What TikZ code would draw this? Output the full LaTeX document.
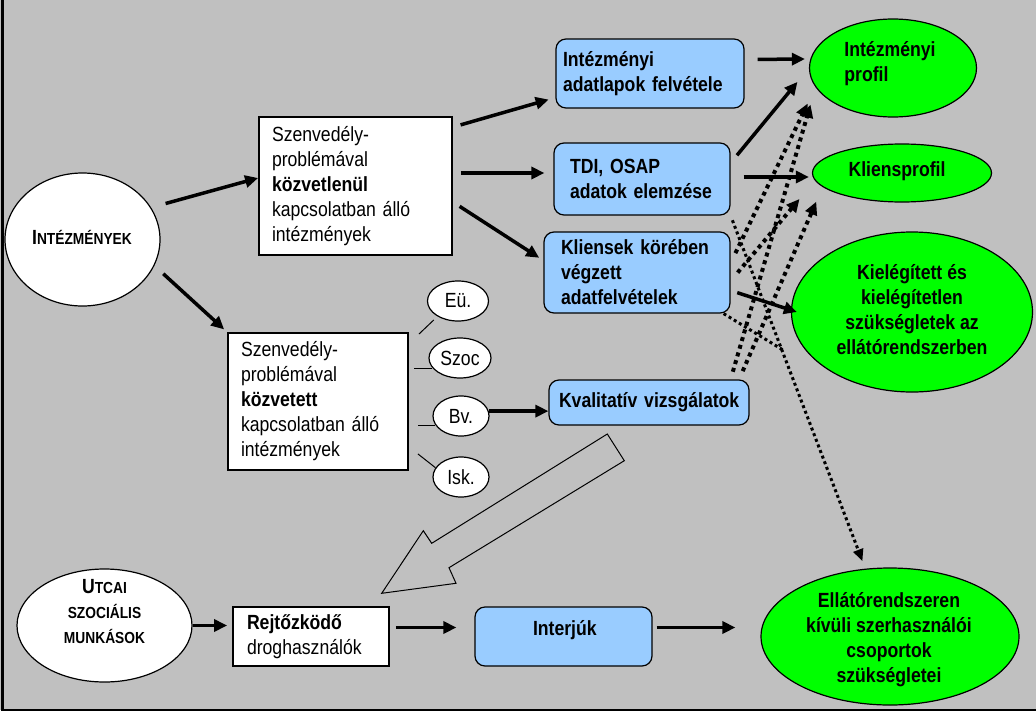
\documentclass[tikz,border=0pt]{standalone}
\usepackage{fontspec}
\setmainfont{Liberation Sans}[FakeStretch=0.86]
\usetikzlibrary{shapes.geometric,arrows.meta}
\definecolor{hatter}{RGB}{192,192,192}
\definecolor{kek}{RGB}{153,204,255}
\definecolor{zold}{RGB}{0,255,0}
\newcommand{\alap}{\fontsize{20.5}{25}\selectfont\hyphenpenalty=10000\exhyphenpenalty=10000}
\newcommand{\kisbetu}{\fontsize{16}{25}\selectfont}
\tikzset{
  doboz/.style={draw, line width=1.8pt, fill=white, inner sep=0pt, align=left, font=\alap},
  kekdoboz/.style={draw, line width=1.2pt, fill=kek, rounded corners=10pt, inner sep=0pt, align=left, font=\alap\bfseries},
  fehell/.style={ellipse, draw, line width=1.2pt, fill=white, inner sep=0pt},
  zoldell/.style={ellipse, draw, line width=1.2pt, fill=zold, inner sep=0pt},
  kisell/.style={ellipse, draw, line width=1.2pt, fill=white, inner sep=0pt, font=\alap},
  felirat/.style={font=\alap\bfseries, inner sep=0pt},
  nyil/.style={line width=3.5pt, -{Triangle[length=13pt,width=12pt]}},
  pontnyil/.style={line width=4pt, dash pattern=on 4pt off 4pt, -{Triangle[length=13pt,width=12pt]}},
  vekonypont/.style={line width=3pt, dash pattern=on 3pt off 3pt},
  vekonynyil/.style={vekonypont, -{Triangle[length=12pt,width=10pt]}},
  vonal/.style={line width=1pt}
}
\begin{document}
\begin{tikzpicture}[x=1pt, y=-1pt]
  \useasboundingbox (0,0) rectangle (1036,715);
  % hatter
  \fill[white] (0,0) rectangle (1036,715);
  \fill[hatter] (0,0) rectangle (1036,710);
  \draw[line width=2.5pt] (2.5,0) -- (2.5,710) -- (1036,710);

  % intezmenyek
  \node[fehell, minimum width=155pt, minimum height=133pt] (inst) at (82.5,239.5) {};
  \node[felirat] (inst-t) at (82,237) {I{\kisbetu NTÉZMÉNYEK}};
  \node[doboz, minimum width=193pt, minimum height=138pt, text width=167pt] (direct) at (355.5,186)
    {Szenvedély-\\problémával\\\textbf{közvetlenül}\\kapcsolatban~álló\\intézmények};
  \node[doboz, minimum width=180pt, minimum height=137pt, text width=154pt] (indirect) at (318,401.5)
    {Szenvedély-\\problémával\\\textbf{közvetett}\\kapcsolatban~álló\\intézmények};
  \foreach \nodename/\x/\y/\w/\txt in {eu/458/301/61/Eü., szoc/460/358/62/Szoc, bv/461/416/56/Bv., isk/461/477/56/Isk.}
    \node[kisell, minimum width=\w pt, minimum height=40pt] (\nodename) at (\x,\y) {\txt};

  % adatgyujtes
  \node[kekdoboz, minimum width=188pt, minimum height=69pt, text width=174pt] (adatlap) at (650,73.5) {Intézményi\\adatlapok~felvétele};
  \node[kekdoboz, minimum width=176pt, minimum height=72pt, text width=144pt] (tdi) at (642,179) {TDI, OSAP\\adatok~elemzése};
  \node[kekdoboz, minimum width=186pt, minimum height=81pt, text width=152pt] (kliens) at (637,272.5) {Kliensek~körében\\végzett\\adatfelvételek};
  \node[kekdoboz, minimum width=200pt, minimum height=45pt, text width=180pt] (kval) at (649,402.5) {Kvalitatív~vizsgálatok};

  % utcai munka
  \node[fehell, minimum width=175pt, minimum height=113pt] (utcai) at (104.5,625.5) {};
  \node[felirat, align=center] (utcai-t) at (104.5,612) {U{\kisbetu TCAI}\\{\kisbetu SZOCIÁLIS}\\{\kisbetu MUNKÁSOK}};
  \node[doboz, minimum width=156pt, minimum height=59pt, text width=128pt] (rejt) at (311,636.5) {\textbf{Rejtőzködő}\\droghasználók};
  \node[kekdoboz, minimum width=177pt, minimum height=59pt, text width=61pt] (interju) at (563.5,636.5) {Interjúk\\[-8pt]\mbox{}};

  % eredmenyek
  \node[zoldell, minimum width=167pt, minimum height=98pt] (iprof) at (893,68) {};
  \node[felirat, align=left] (iprof-t) at (890,64) {Intézményi\\profil};
  \node[zoldell, minimum width=179pt, minimum height=58pt] (kprof) at (902,173) {};
  \node[felirat] (kprof-t) at (897,171) {Kliensprofil};
  \node[zoldell, minimum width=241pt, minimum height=160pt] (igeny) at (912,312) {};
  \node[felirat, align=center] (igeny-t) at (912,310) {Kielégített és\\kielégítetlen\\szükségletek az\\ellátórendszerben};
  \node[zoldell, minimum width=258pt, minimum height=137pt] (kivul) at (890,636.5) {};
  \node[felirat, align=center] (kivul-t) at (889,640) {Ellátórendszeren\\kívüli szerhasználói\\csoportok\\szükségletei};

  % nyilak
  \draw[nyil, shorten <=15pt] (inst.25) -- ([yshift=8pt]direct.west);
  \draw[nyil, shorten <=12pt, shorten >=4pt] (inst.-20) -- (indirect.north west);
  \draw[nyil, shorten <=8pt, shorten >=7pt] ([yshift=-11pt]direct.north east) -- ([yshift=11pt]adatlap.south west);
  \draw[nyil, shorten <=8pt, shorten >=9pt] ([yshift=13pt]direct.east) -- ([yshift=6pt]tdi.west);
  \draw[nyil, shorten <=8pt, shorten >=5pt] ([yshift=-16pt]direct.east) -- ([yshift=12pt]kliens.west);
  \draw[nyil, shorten <=13pt, shorten >=4pt] ([yshift=14pt]adatlap.east) -- ([yshift=9pt]iprof.west);
  \draw[nyil, shorten <=10pt, shorten >=18pt] ([yshift=16pt]tdi.east) -- (iprof.west);
  \draw[nyil, shorten <=13pt, shorten >=3pt] ([yshift=2pt]tdi.east) -- ([yshift=-4pt]kprof.west);
  \draw[nyil, shorten <=7pt] ([yshift=-18pt]kliens.east) -- ([xshift=6pt]igeny.west);
  \draw[nyil] (bv.10) -- (bv.10 -| kval.west);
  \draw[nyil, shorten >=5pt] (utcai.east) -- (utcai.east -| rejt.west);
  \draw[nyil, shorten <=6pt, shorten >=18pt] ([yshift=9pt]rejt.east) -- ([yshift=9pt]interju.west);
  \draw[nyil, shorten <=4pt, shorten >=25pt] ([yshift=9pt]interju.east) -- ([yshift=9pt]kivul.west);

  % pontozott nyilak
  \draw[pontnyil, shorten <=11pt, shorten >=18pt] ([yshift=9.5pt]kliens.east) -- (iprof.194);
  \draw[pontnyil, shorten <=11pt, shorten >=24pt] ([yshift=-8.5pt]kliens.east) -- (kprof.185);
  \draw[pontnyil, shorten <=8pt, shorten >=18pt] ([xshift=-19pt]kval.north east) -- (iprof.194);
  \draw[pontnyil, shorten <=9pt, shorten >=16pt] ([xshift=-10.5pt]kval.north east) -- (kprof.190);
  \draw[vekonynyil, shorten <=5pt, shorten >=8pt] (tdi.south east) -- (kivul.110);
  \coordinate (metszes) at (783,350);
  \draw[vekonypont] ([xshift=-7pt]kliens.south east) -- (metszes);

  % kis ellipszisek vonalai
  \draw[vonal, shorten <=5pt] (eu.217) -- ([xshift=10pt,yshift=-2pt]indirect.north east);
  \draw[vonal, shorten >=5pt] (szoc.200) -- (indirect.east |- szoc.200);
  \draw[vonal, shorten >=9pt] (bv.200) -- (indirect.east |- bv.200);
  \draw[vonal] (isk.160) -- ([xshift=9pt,yshift=17pt]indirect.south east);

  % ures nyil
  \draw[line width=1pt, fill=hatter] (607.3,434) -- (624.3,460.7) -- (449,567.7) -- (456,583.3)
    -- (381.7,593.3) -- (423.3,530.7) -- (431.7,543.3) -- cycle;
\end{tikzpicture}
\end{document}
